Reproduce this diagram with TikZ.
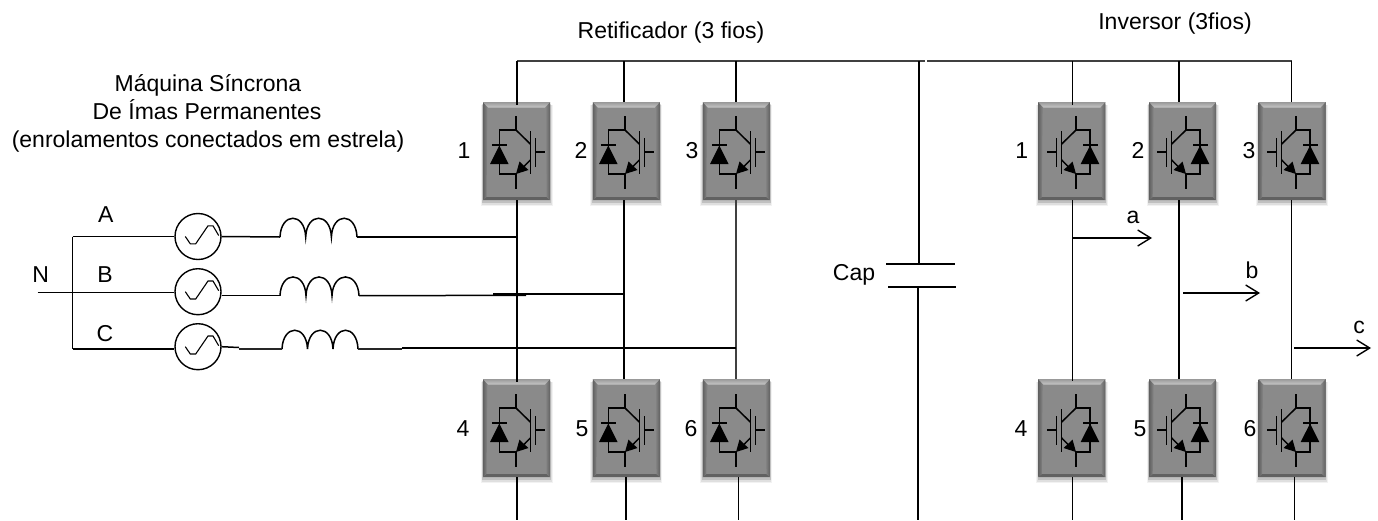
\documentclass[tikz,border=0pt]{standalone}
\usepackage{fontspec}
\setmainfont{Liberation Sans}
\usetikzlibrary{arrows.meta}
\definecolor{modbody}{HTML}{8A8A8A}
\definecolor{raildark}{HTML}{404040}
\tikzset{
  x=1pt,y=-1pt,
  txt/.style={inner sep=0pt,anchor=base,font=\fontsize{23}{26}\selectfont,text=black,align=center},
  wire/.style={draw=black,line width=1.5pt},
  heavy/.style={draw=raildark,line width=2pt},
  thickw/.style={draw=black!85,line width=2.2pt},
  outarrow/.style={draw=black,line width=1.4pt,-{Straight Barb[length=13pt,width=16pt,line width=1.4pt]}},
  module/.style={rectangle,minimum width=67pt,minimum height=98pt,inner sep=0pt,fill=modbody},
  pics/softshadow/.style={code={
    \fill[black,opacity=.05] (-36,-46) rectangle (36,55);
    \fill[black,opacity=.08] (-35,-46) rectangle (35,53.5);
    \fill[black,opacity=.14] (-34.3,-47) rectangle (34.3,52);
  }},
  pics/bevel/.style={code={
    \fill[black!62] (-33.5,49) -- (-30,46) -- (30,46) -- (33.5,49) -- cycle;
    \shade[left color=black!62,right color=black!47] (-33.5,-49) -- (-29,-43.5) -- (-30,46) -- (-33.5,49) -- cycle;
    \shade[left color=black!47,right color=black!62] (33.5,-49) -- (29,-43.5) -- (30,46) -- (33.5,49) -- cycle;
    \shade[top color=black!40,bottom color=black!22] (-33.5,-49) -- (33.5,-49) -- (28.5,-43.5) -- (-28.5,-43.5) -- cycle;
  }},
  source/.style={circle,draw=black,line width=1.4pt,minimum size=46pt,inner sep=0pt,fill=white},
  pics/igbt/.style={code={
    \draw[line width=1.5pt,draw=black] (0,-35) -- (0,-21) -- (-#1,-21) -- (-#1,23) -- (0,23) -- (0,38);
    \draw[line width=1.5pt,draw=black] (-#1-7.5,-6) -- (-#1+7.5,-6);
    \fill[black] (-#1,-5.5) -- (-#1-9.3,13) -- (-#1+9.3,13) -- cycle;
    \draw[line width=1.5pt,draw=black] (0,-21) -- (14.3,-7);
    \draw[line width=1.5pt,draw=black] (14.3,-20) -- (14.3,23);
    \draw[line width=1.5pt,draw=black] (19.7,-13) -- (19.7,16);
    \draw[line width=1.5pt,draw=black] (19.7,1) -- (29,1);
    \draw[line width=1.5pt,draw=black] (14.3,9) -- (6,17.5);
    \fill[black] (0,23) -- (3.5,10.5) -- (7.5,14.5) -- (12.5,19) -- cycle;
  }},
  pics/sinewave/.style={code={
    \draw[line width=1.1pt,draw=black] (-12.7,0) -- (-7.7,7.3) -- (-2.3,7.3) -- (10,-10.7) -- (15,-10.7) -- (20.7,-1);
  }}
}
\newcommand{\mymodule}[3]{%
  \pic at (#2,#3) {softshadow};
  \node[module] (#1) at (#2,#3) {};
  \pic at (#2,#3) {bevel};
}
\begin{document}
\begin{tikzpicture}
\useasboundingbox (0,0) rectangle (1378,520);
% modules
\mymodule{r1}{516.5}{151}
\mymodule{r2}{626.3}{151}
\mymodule{r3}{736.3}{151}
\mymodule{r4}{516.5}{428}
\mymodule{r5}{626.3}{428}
\mymodule{r6}{736.3}{428}
\mymodule{i1}{1071.8}{151}
\mymodule{i2}{1182.7}{151}
\mymodule{i3}{1292}{151}
\mymodule{i4}{1071.8}{428}
\mymodule{i5}{1182.7}{428}
\mymodule{i6}{1292}{428}
% symbols
\pic at (516,151) {igbt=16.7};
\pic at (625,151) {igbt=16.7};
\pic at (736,151) {igbt=16.7};
\pic at (516,429) {igbt=16.7};
\pic at (625,429) {igbt=16.7};
\pic at (736,429) {igbt=16.7};
\pic[xscale=-1] at (1076,151) {igbt=14};
\pic[xscale=-1] at (1186,151) {igbt=14};
\pic[xscale=-1] at (1296,151) {igbt=14};
\pic[xscale=-1] at (1076,429) {igbt=14};
\pic[xscale=-1] at (1186,429) {igbt=14};
\pic[xscale=-1] at (1296,429) {igbt=14};
% numbers
\node[txt] (nr1) at (464,158) {1};
\node[txt] (nr2) at (581,158) {2};
\node[txt] (nr3) at (692,158) {3};
\node[txt] (nr4) at (463,436.5) {4};
\node[txt] (nr5) at (582,436.5) {5};
\node[txt] (nr6) at (691,436.5) {6};
\node[txt] (ni1) at (1021.7,158) {1};
\node[txt] (ni2) at (1138,158) {2};
\node[txt] (ni3) at (1249,158) {3};
\node[txt] (ni4) at (1021,436.5) {4};
\node[txt] (ni5) at (1140,436.5) {5};
\node[txt] (ni6) at (1250,436.5) {6};
% rail
\coordinate (railL) at (517,61);
\coordinate (railM) at (925,61);
\coordinate (railN) at (927,61);
\coordinate (railR) at (1292,61);
\draw[heavy] (railL) -- (railM);
\draw[heavy] (railN) -- (railR);
% feet
\coordinate (f1) at (517,520);
\coordinate (f2) at (626,520);
\coordinate (f3) at (738.7,520);
\coordinate (f4) at (1072.7,520);
\coordinate (f5) at (1182,520);
\coordinate (f6) at (1294.3,520);
% vertical wires rectifier
\draw[wire] (517,61) -- ([xshift=.5pt,yshift=-3pt]r1.north);
\draw[wire] (624,61) -- ([xshift=-2.3pt]r2.north);
\draw[wire] (736,61) -- ([xshift=-.3pt]r3.north);
\draw[wire] ([xshift=.5pt]r1.south) -- ([xshift=.5pt,yshift=-3pt]r4.north);
\draw[wire] ([xshift=-2.3pt]r2.south) -- ([xshift=-2.3pt]r5.north);
\draw[heavy] ([xshift=-.3pt]r3.south) -- ([xshift=-.3pt]r6.north);
\draw[wire] ([xshift=.5pt]r4.south) -- (f1);
\draw[wire] ([xshift=-.3pt]r5.south) -- (f2);
\draw[wire] ([xshift=2.4pt]r6.south) -- (f3);
% vertical wires inverter
\draw[wire] (1072.7,61) -- ([xshift=.9pt,yshift=-3pt]i1.north);
\draw[wire] (1179,61) -- ([xshift=-3.7pt]i2.north);
\draw[wire] (1291.3,61) -- ([xshift=-.7pt]i3.north);
\draw[wire] ([xshift=.9pt]i1.south) -- ([xshift=.9pt,yshift=-2pt]i4.north);
\draw[wire] ([xshift=-3.7pt]i2.south) -- ([xshift=-3.7pt]i5.north);
\draw[wire] ([xshift=-.7pt]i3.south) -- ([xshift=-.7pt]i6.north);
\draw[wire] ([xshift=.9pt]i4.south) -- (f4);
\draw[wire] ([xshift=-.7pt]i5.south) -- (f5);
\draw[wire] ([xshift=2.3pt]i6.south) -- (f6);
% capacitor
\coordinate (capT1) at (886,264);
\coordinate (capT2) at (955,264);
\coordinate (capB1) at (888,287);
\coordinate (capB2) at (956,287);
\draw[wire] (capT1) -- (capT2);
\draw[wire] (capB1) -- (capB2);
\draw[wire] (919,61) -- (919,264);
\draw[wire] (918,287) -- (918,520);
\node[txt] (cap) at (854,280) {Cap};
% outputs
\draw[outarrow] (1073,238) -- (1152,238);
\draw[outarrow] (1183,293) -- (1260,293);
\draw[outarrow] (1294,348) -- (1371,348);
\node[txt] (la) at (1133,223) {a};
\node[txt] (lb) at (1252,278) {b};
\node[txt] (lc) at (1359,333) {c};
% star point
\coordinate (nL) at (37.7,292.7);
\coordinate (starT) at (72.7,236.5);
\coordinate (starB) at (72.7,349);
\node[source] (sA) at (198,236.5) {};
\node[source] (sB) at (198,291.7) {};
\node[source] (sC) at (198,346.7) {};
\pic at (198,236.5) {sinewave};
\pic at (198,291.7) {sinewave};
\pic at (198,346.7) {sinewave};
\draw[wire] (starT) -- (starB);
\draw[wire] (starT) -- (sA.west);
\draw[wire] (nL) -- ([yshift=-1pt]sB.west);
\draw[wire] (starB) -- ([yshift=-2.3pt]sC.west);
% inductors
\coordinate (LAa) at (280,237);
\coordinate (LAb) at (305.7,237);
\coordinate (LAc) at (331.4,237);
\coordinate (LAd) at (357,237);
\coordinate (LBa) at (280,295.7);
\coordinate (LBb) at (306,295.7);
\coordinate (LBc) at (332,295.7);
\coordinate (LBd) at (359,295.7);
\coordinate (LCa) at (282,349);
\coordinate (LCb) at (307.5,349);
\coordinate (LCc) at (333,349);
\coordinate (LCd) at (358,349);
\draw[wire] (LAa) .. controls +(1,-25) and +(-1,-25) .. (LAb) .. controls +(1,-25) and +(-1,-25) .. (LAc) .. controls +(1,-25) and +(-1,-25) .. (LAd);
\draw[wire] (LBa) .. controls +(1,-25) and +(-1,-25) .. (LBb) .. controls +(1,-25) and +(-1,-25) .. (LBc) .. controls +(1,-25) and +(-1,-25) .. (LBd);
\draw[wire] (LCa) .. controls +(1,-25) and +(-1,-25) .. (LCb) .. controls +(1,-25) and +(-1,-25) .. (LCc) .. controls +(1,-25) and +(-1,-25) .. (LCd);
% phase wires
\coordinate (pA) at (517,237);
\coordinate (pB1) at (526,295.3);
\coordinate (pB) at (624,294);
\coordinate (pC) at (736,348);
\draw[wire] (sA.east) -- (LAa);
\draw[wire] (LAd) -- (pA);
\draw[wire] ([yshift=-4pt]sB.east) -- (LBa);
\draw[wire] (LBd) -- (pB1);
\draw[wire] (493,294) -- (pB);
\draw[thickw] (239,349) -- (LCa);
\draw[thickw] (LCd) -- (402,349);
\draw[wire] (sC.east) -- (239,347.5);
\draw[wire] (402,348) -- (pC);
% labels
\node[txt] (tm1) at (208,91) {Máquina Síncrona};
\node[txt] (tm2) at (207,119) {De Ímas Permanentes};
\node[txt] (tm3) at (208,147) {(enrolamentos conectados em estrela)};
\node[txt] (ta) at (105.7,222.7) {A};
\node[txt] (tb) at (105,282) {B};
\node[txt] (tc) at (105,341) {C};
\node[txt] (tn) at (40.7,282) {N};
\node[txt] (tr) at (671,38) {Retificador (3 fios)};
\node[txt] (ti) at (1175,29) {Inversor (3fios)};
\end{tikzpicture}
\end{document}
